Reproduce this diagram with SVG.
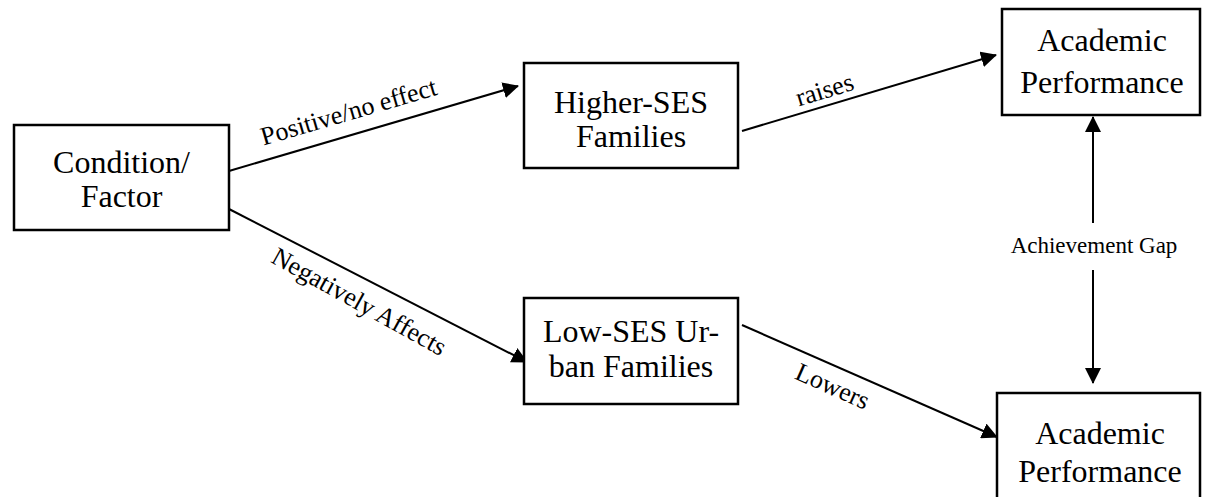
<svg xmlns="http://www.w3.org/2000/svg" width="1205" height="497" viewBox="0 0 1205 497">
<style>
.box{fill:#fff;stroke:#000;stroke-width:2.5}
.nt{font-family:"Liberation Serif","Times New Roman",serif;font-size:32px;fill:#000;text-anchor:middle}
.lt{font-family:"Liberation Serif","Times New Roman",serif;font-size:26px;fill:#000;text-anchor:middle}
.gt{font-family:"Liberation Serif","Times New Roman",serif;font-size:23px;fill:#000;text-anchor:middle}
.cn{stroke:#000;stroke-width:2;fill:none}
</style>
<defs>
<marker id="ahb" markerWidth="16" markerHeight="16" refX="15" refY="8" orient="auto" markerUnits="userSpaceOnUse" viewBox="0 0 16 16">
<path d="M0,0 L16,8 L0,16 z" fill="#000"/>
</marker>
</defs>
<rect width="1205" height="497" fill="#fff"/>
<g id="connectors">
<line class="cn" x1="229" y1="171" x2="518" y2="86" marker-end="url(#ahb)"/>
<line class="cn" x1="229" y1="209" x2="527" y2="362" marker-end="url(#ahb)"/>
<line class="cn" x1="742" y1="131" x2="996" y2="55" marker-end="url(#ahb)"/>
<line class="cn" x1="742" y1="325" x2="997" y2="437" marker-end="url(#ahb)"/>
<line class="cn" x1="1093" y1="223" x2="1093" y2="117" marker-end="url(#ahb)"/>
<line class="cn" x1="1093" y1="270" x2="1093" y2="383" marker-end="url(#ahb)"/>
<text class="lt" transform="translate(351,120) rotate(-16.3)">Positive/no effect</text>
<text class="lt" transform="translate(355,309) rotate(29)">Negatively Affects</text>
<text class="lt" transform="translate(827,98) rotate(-16.9)">raises</text>
<text class="lt" transform="translate(829,394) rotate(24)">Lowers</text>
<text class="gt" x="1094" y="253">Achievement Gap</text>
</g>
<g id="condition">
<rect class="box" x="14" y="125" width="215" height="105"/>
<text class="nt" x="121.5" y="173">Condition/</text>
<text class="nt" x="121.5" y="207">Factor</text>
</g>
<g id="higher-ses">
<rect class="box" x="524" y="63" width="214" height="105"/>
<text class="nt" x="631" y="113">Higher-SES</text>
<text class="nt" x="631" y="147">Families</text>
</g>
<g id="low-ses">
<rect class="box" x="524" y="298" width="214" height="106"/>
<text class="nt" x="631" y="342">Low-SES Ur-</text>
<text class="nt" x="631" y="377">ban Families</text>
</g>
<g id="academic-top">
<rect class="box" x="1002" y="9" width="198" height="106"/>
<text class="nt" x="1102" y="51">Academic</text>
<text class="nt" x="1102" y="93">Performance</text>
</g>
<g id="academic-bottom">
<rect class="box" x="997" y="393" width="203" height="110"/>
<text class="nt" x="1100" y="444">Academic</text>
<text class="nt" x="1100" y="482">Performance</text>
</g>
</svg>
